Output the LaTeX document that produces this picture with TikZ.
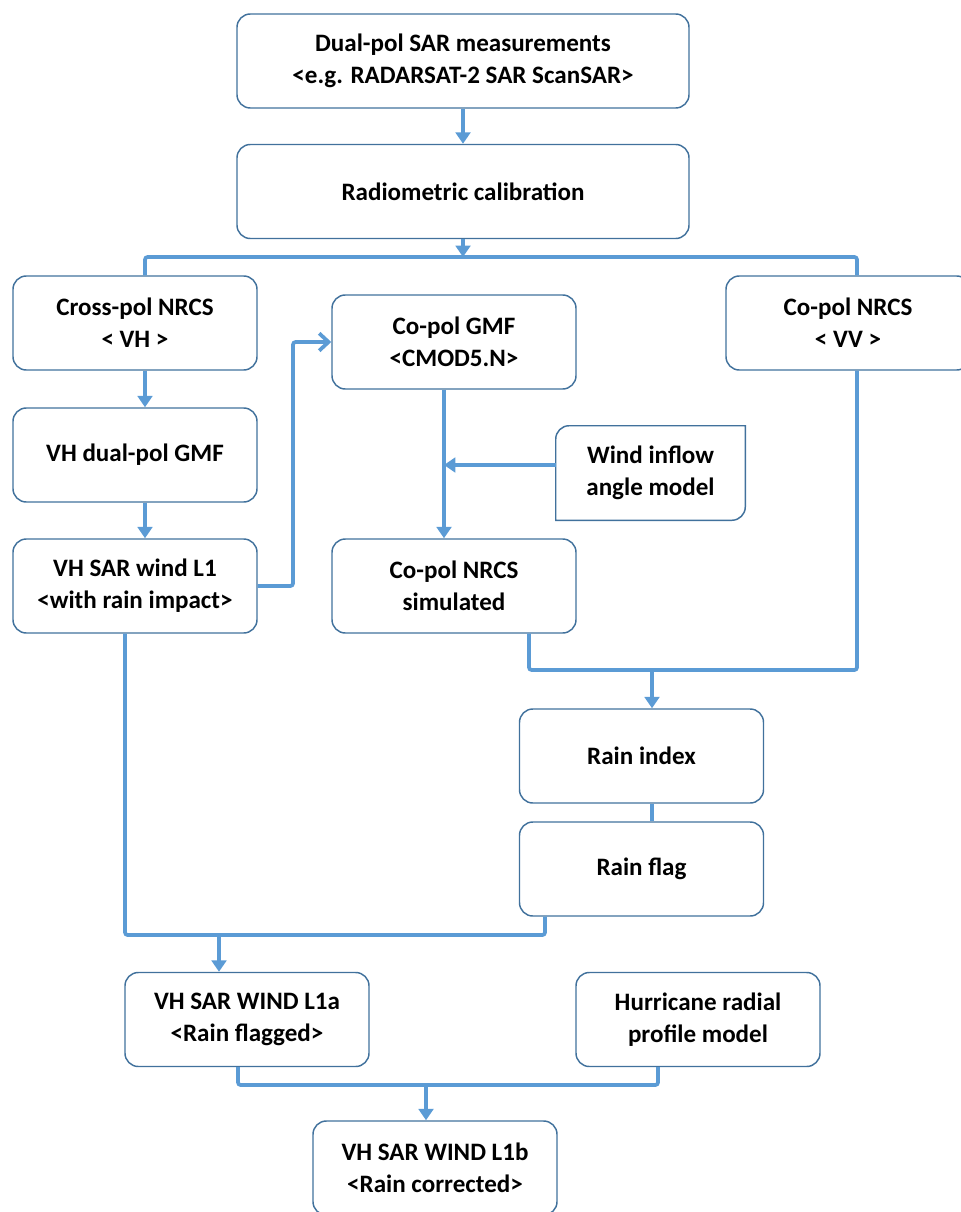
\documentclass[tikz,border=0pt]{standalone}
\usepackage{fontspec}
\setmainfont{Carlito}
\usepackage{tikz}
\usetikzlibrary{positioning,arrows.meta}
\definecolor{boxedge}{HTML}{41719C}
\definecolor{flowblue}{HTML}{5B9BD5}

\begin{document}
\begin{tikzpicture}[x=0.75pt,y=-0.75pt,font=\fontsize{18.8}{24}\selectfont\bfseries,
  stage/.style={draw=boxedge,line width=1.1pt,rounded corners=10pt,align=center,inner sep=2pt,minimum width=183pt,minimum height=70.5pt},
  wide/.style={stage,minimum width=339pt},
  conn/.style={draw=flowblue,line width=2.8pt,rounded corners=2pt},
  arr/.style={conn,-{Triangle[length=8.5pt,width=11pt]}},
  barb/.style={conn,-{Straight Barb[length=7pt,width=13pt]}}]
  \useasboundingbox (0,0) rectangle (960,1212);
  \node[wide] (meas) at (463,61) {Dual-pol SAR measurements\\<e.g. RADARSAT-2 SAR ScanSAR>};
  \node[wide] (calib) at (463,191.5) {Radiometric calibration};
  \draw[arr] (meas) -- (calib);
  \coordinate (busT) at (463,257);
  \coordinate (busTL) at (145,257);
  \coordinate (busTR) at (857,257);
  \node[stage] (cross) at (135,323) {Cross-pol NRCS\\< VH >};
  \node[stage] (vv) at (848,323) {Co-pol NRCS\\< VV >};
  \draw[arr] (calib) -- (busT);
  \draw[conn] (busTL |- cross.north) -- (busTL) -- (busTR) -- (busTR |- vv.north);
  \node[stage] (vhgmf) at (135,455) {VH dual-pol GMF};
  \draw[arr] (busTL |- cross.south) -- (busTL |- vhgmf.north);
  \node[stage] (vhwind) at (135,586) {VH SAR wind L1\\<with rain impact>};
  \draw[arr] (busTL |- vhgmf.south) -- (busTL |- vhwind.north);
  \node[stage] (cogmf) at (454,342) {Co-pol GMF\\<CMOD5.N>};
  \coordinate (elbow) at (293,465);
  \draw[barb] (vhwind.east) -- (vhwind.east -| elbow) |- (cogmf.west);
  \node[stage] (sim) at (454,586) {Co-pol NRCS\\simulated};
  \coordinate (gmfx) at (444,465);
  \draw[arr] (cogmf.south -| gmfx) -- (sim.north -| gmfx);
  \node[minimum width=141.75pt,minimum height=70.5pt,align=center,inner sep=2pt] (wind) at (650.5,473) {Wind inflow\\angle model};
  \draw[draw=boxedge,line width=1.1pt] (wind.south west) -- ([yshift=-10pt]wind.north west) arc[start angle=180,end angle=90,radius=10pt] -- (wind.north east) -- ([yshift=10pt]wind.south east) arc[start angle=0,end angle=-90,radius=10pt] -- cycle;
  \draw[arr] (wind.west |- gmfx) -- (gmfx);
  \coordinate (busML) at (529,670);
  \coordinate (busM) at (652,670);
  \coordinate (busMR) at (857,670);
  \draw[conn] (busML |- sim.south) -- (busML) -- (busMR) -- (busMR |- vv.south);
  \node[stage] (rainidx) at (641.5,756) {Rain index};
  \draw[arr] (busM) -- (busM |- rainidx.north);
  \node[stage] (rainflag) at (641.5,869) {Rain flag};
  \draw[conn] (busM |- rainidx.south) -- (busM |- rainflag.north);
  \coordinate (busBL) at (125,935);
  \coordinate (busB) at (219,935);
  \coordinate (busBR) at (545,935);
  \draw[conn] (busBL |- vhwind.south) -- (busBL) -- (busBR) -- (busBR |- rainflag.south);
  \node[stage] (l1a) at (247,1019.5) {VH SAR WIND L1a\\<Rain flagged>};
  \draw[arr] (busB) -- (busB |- l1a.north);
  \node[stage] (hurr) at (698,1019.5) {Hurricane radial\\profile model};
  \coordinate (busXL) at (238,1085);
  \coordinate (busX) at (426,1085);
  \coordinate (busXR) at (658,1085);
  \draw[conn] (busXL |- l1a.south) -- (busXL) -- (busXR) -- (busXR |- hurr.south);
  \node[stage] (l1b) at (435,1168) {VH SAR WIND L1b\\<Rain corrected>};
  \draw[arr] (busX) -- (busX |- l1b.north);
\end{tikzpicture}
\end{document}
